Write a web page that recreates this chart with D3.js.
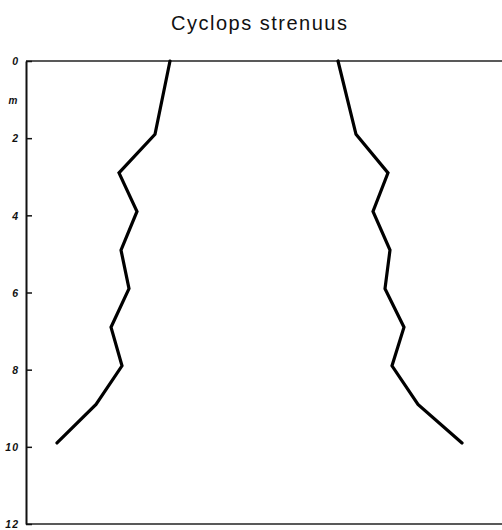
<!DOCTYPE html>
<html>
<head>
<meta charset="utf-8">
<script src="https://cdn.jsdelivr.net/npm/d3@7"></script>
<style>
  html, body { margin: 0; padding: 0; background: #fff; }
  svg { display: block; }
</style>
</head>
<body>
<div id="chart"></div>
<script>
// ---- data ----
const title = "Cyclops strenuus";
const depths = [0, 1.9, 2.9, 3.9, 4.9, 5.9, 6.9, 7.9, 8.9, 9.9];
// horizontal extent of the kite on each side of its centre line (arbitrary units)
const leftWidth  = [84, 99, 135, 117, 133, 125, 143, 132, 158, 197];
const rightWidth = [84, 102, 134, 119, 136, 131, 150, 138, 164, 208];
const yTicks = [0, 2, 4, 6, 8, 10, 12];
const yTickLabels = ["0", "2", "4", "6", "8", "10", "12"];
const unitLabel = "m";

// ---- layout ----
const W = 502, H = 530;
const svg = d3.select("#chart").append("svg").attr("width", W).attr("height", H);

const y = d3.scaleLinear().domain([0, 12]).range([61, 524]);
const x = d3.scaleLinear().domain([-228, 248]).range([26, 502]);

// title
svg.append("text")
  .attr("x", 259).attr("y", 30)
  .attr("text-anchor", "middle")
  .attr("font-family", "Liberation Sans, Arial, sans-serif")
  .attr("font-size", 20)
  .attr("textLength", 176)
  .attr("lengthAdjust", "spacing")
  .attr("fill", "#111")
  .text(title);

// top and bottom frame lines
svg.append("line")
  .attr("x1", x(-228)).attr("x2", x(248))
  .attr("y1", y(0)).attr("y2", y(0))
  .attr("stroke", "#222").attr("stroke-width", 1.5);
svg.append("line")
  .attr("x1", x(-228)).attr("x2", x(248))
  .attr("y1", y(12)).attr("y2", y(12))
  .attr("stroke", "#222").attr("stroke-width", 1.5);

// y axis
const axis = d3.axisRight(y)
  .tickValues(yTicks)
  .tickFormat((d, i) => yTickLabels[i])
  .tickSize(6)
  .tickSizeOuter(0);
const gAxis = svg.append("g").attr("transform", `translate(${x(-228)},0)`).call(axis);
gAxis.select(".domain").attr("stroke", "#111").attr("stroke-width", 2);
gAxis.selectAll(".tick line").attr("stroke", "#111").attr("stroke-width", 1.5);
gAxis.selectAll(".tick text")
  .attr("x", -7)
  .attr("text-anchor", "end")
  .attr("dy", "0.35em")
  .attr("font-family", "Liberation Sans, Arial, sans-serif")
  .attr("font-style", "italic")
  .attr("font-weight", "bold")
  .attr("font-size", 10.5)
  .attr("letter-spacing", 1)
  .attr("fill", "#111");

// unit label
svg.append("text")
  .attr("x", 13).attr("y", y(1.02))
  .attr("text-anchor", "middle")
  .attr("dy", "0.35em")
  .attr("font-family", "Liberation Sans, Arial, sans-serif")
  .attr("font-style", "italic")
  .attr("font-weight", "bold")
  .attr("font-size", 10)
  .attr("fill", "#111")
  .text(unitLabel);

// kite outlines
const line = d3.line().x(d => x(d[0])).y(d => y(d[1]));
const leftPts = depths.map((d, i) => [-leftWidth[i], d]);
const rightPts = depths.map((d, i) => [rightWidth[i], d]);
[leftPts, rightPts].forEach(pts => {
  svg.append("path")
    .attr("d", line(pts))
    .attr("fill", "none")
    .attr("stroke", "#000")
    .attr("stroke-width", 3.2)
    .attr("stroke-linejoin", "miter")
    .attr("stroke-linecap", "round");
});
</script>
</body>
</html>
